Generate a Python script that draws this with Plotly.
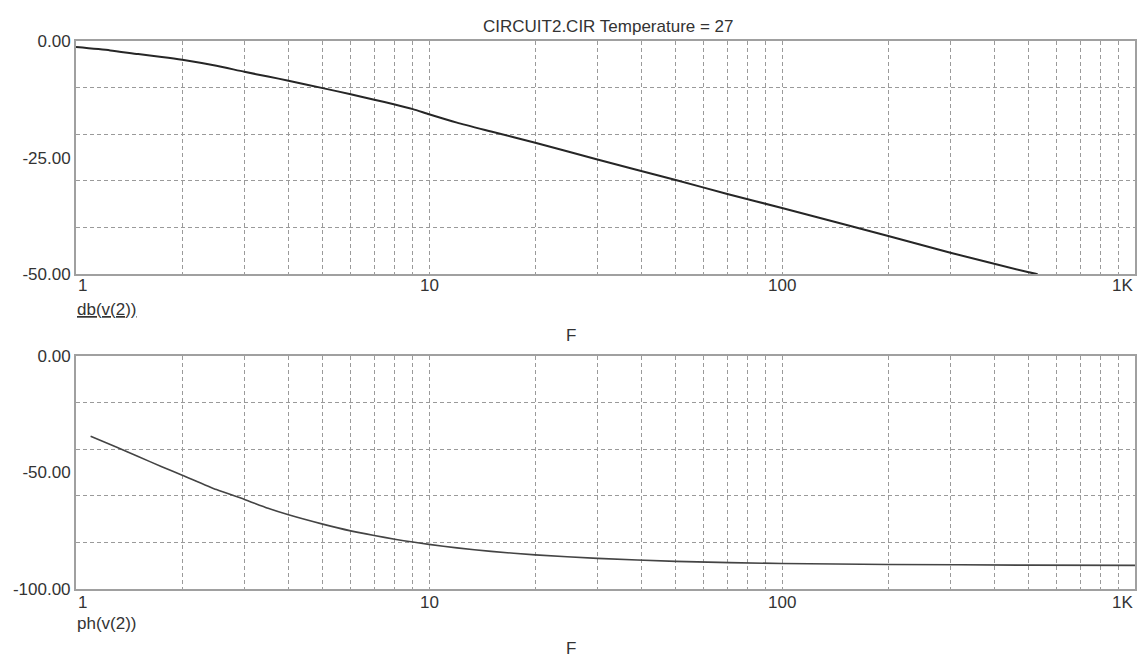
import math
import plotly.graph_objects as go

# ---- data ----
freq_db = [1, 1.25, 1.5, 1.75, 2, 2.5, 3, 3.5, 4, 5, 6, 7, 8, 9, 10, 12, 15, 20, 30,
           50, 70, 100, 200, 300, 500, 530]
db_v2 = [-1.3, -2.0, -2.8, -3.4, -4.0, -5.3, -6.6, -7.6, -8.5, -10.1, -11.4, -12.6,
         -13.6, -14.6, -15.7, -17.5, -19.4, -21.8, -25.4, -29.8, -32.8, -35.8, -41.8,
         -45.4, -49.6, -50.0]

freq_ph = [1.1, 1.3, 1.5, 1.75, 2, 2.5, 3, 3.5, 4, 5, 6, 7, 8, 9, 10, 12, 15, 20, 30,
           50, 100, 200, 500, 1000]
ph_v2 = [-34.5, -39.1, -43.2, -47.6, -51.2, -57.4, -61.6, -65.4, -68.2, -72.2, -75.1,
         -77.1, -78.7, -79.9, -80.9, -82.4, -83.9, -85.4, -86.9, -88.2, -89.1, -89.5,
         -89.8, -89.9]

x_tick_vals = [1, 10, 100, 1000]
x_tick_text = ["1", "10", "100", "1K"]
x_grid_vals = [2, 3, 4, 5, 6, 7, 8, 9, 10, 20, 30, 40, 50, 60, 70, 80, 90, 100,
               200, 300, 400, 500, 600, 700, 800, 900]

db_tick_vals = [0, -25, -50]
db_tick_text = ["0.00", "-25.00", "-50.00"]
db_grid_vals = [-10, -20, -30, -40]

ph_tick_vals = [0, -50, -100]
ph_tick_text = ["0.00", "-50.00", "-100.00"]
ph_grid_vals = [-20, -40, -60, -80]

title_text = "CIRCUIT2.CIR Temperature = 27"

W, H = 1142, 664
FONT = "Liberation Sans, Arial, sans-serif"
FS = 17
TXT = "#333333"
GRID = "#9a9a9a"
FRAME = "#a0a0a0"

def px(x):
    return x / W

def py(y):
    return 1 - y / H

fig = go.Figure()
fig.add_trace(go.Scatter(x=freq_db, y=db_v2, mode="lines", xaxis="x", yaxis="y",
                         line=dict(color="#262626", width=2, shape="spline", smoothing=0.6),
                         showlegend=False))
fig.add_trace(go.Scatter(x=freq_ph, y=ph_v2, mode="lines", xaxis="x2", yaxis="y2",
                         line=dict(color="#444444", width=1.6, shape="spline", smoothing=0.6),
                         showlegend=False))

xdom = [px(76), px(1135)]

def xaxis(anchor):
    return dict(domain=xdom, type="log", range=[0, 3], anchor=anchor,
                showgrid=False, showticklabels=False, ticks="", zeroline=False,
                showline=True, linecolor=FRAME, linewidth=2, mirror=True,
                minor=dict(tickmode="array", tickvals=x_grid_vals, showgrid=True,
                           gridcolor=GRID, griddash="4px,3px", gridwidth=1, ticks=""))

def yaxis(anchor, dom, rng, tv, tt, gv):
    return dict(domain=dom, range=rng, anchor=anchor, tickmode="array",
                tickvals=tv, ticktext=tt, showgrid=False, zeroline=False,
                showline=True, linecolor=FRAME, linewidth=2, mirror=True,
                ticks="", tickfont=dict(family=FONT, size=FS, color=TXT),
                minor=dict(tickmode="array", tickvals=gv, showgrid=True,
                           gridcolor=GRID, griddash="4px,3px", gridwidth=1, ticks=""))

fig.update_layout(
    width=W, height=H, margin=dict(l=0, r=0, t=0, b=0),
    paper_bgcolor="white", plot_bgcolor="white",
    xaxis=xaxis("y"),
    yaxis=yaxis("x", [py(273), py(33)], [-50, 0], db_tick_vals, db_tick_text, db_grid_vals),
    xaxis2=xaxis("y2"),
    yaxis2=yaxis("x2", [py(597), py(357)], [-100, 0], ph_tick_vals, ph_tick_text, ph_grid_vals),
    font=dict(family=FONT, size=FS, color=TXT),
)

anns = []
# x tick labels for both panels
for xr, ybase in (("x", 285), ("x2", 611)):
    for v, t in zip(x_tick_vals, x_tick_text):
        if v == 1:
            xa = "left"
        elif v == 1000:
            xa = "right"
        else:
            xa = "center"
        anns.append(dict(x=math.log10(v), xref=xr, y=py(ybase), yref="paper",
                         text=t, showarrow=False, xanchor=xa, yanchor="middle",
                         font=dict(family=FONT, size=FS, color=TXT)))

anns += [
    dict(x=px(608), y=py(18), xref="paper", yref="paper", text=title_text,
         showarrow=False, xanchor="center", yanchor="middle",
         font=dict(family=FONT, size=FS, color=TXT)),
    dict(x=px(75), y=py(309), xref="paper", yref="paper", text="<u>db(v(2))</u>",
         showarrow=False, xanchor="left", yanchor="middle",
         font=dict(family=FONT, size=FS, color=TXT)),
    dict(x=px(571), y=py(336), xref="paper", yref="paper", text="F",
         showarrow=False, xanchor="center", yanchor="middle",
         font=dict(family=FONT, size=FS, color=TXT)),
    dict(x=px(75), y=py(633), xref="paper", yref="paper", text="ph(v(2))",
         showarrow=False, xanchor="left", yanchor="middle",
         font=dict(family=FONT, size=FS, color=TXT)),
    dict(x=px(571), y=py(658), xref="paper", yref="paper", text="F",
         showarrow=False, xanchor="center", yanchor="middle",
         font=dict(family=FONT, size=FS, color=TXT)),
]
fig.update_layout(annotations=anns)

fig.write_html("out.html")
